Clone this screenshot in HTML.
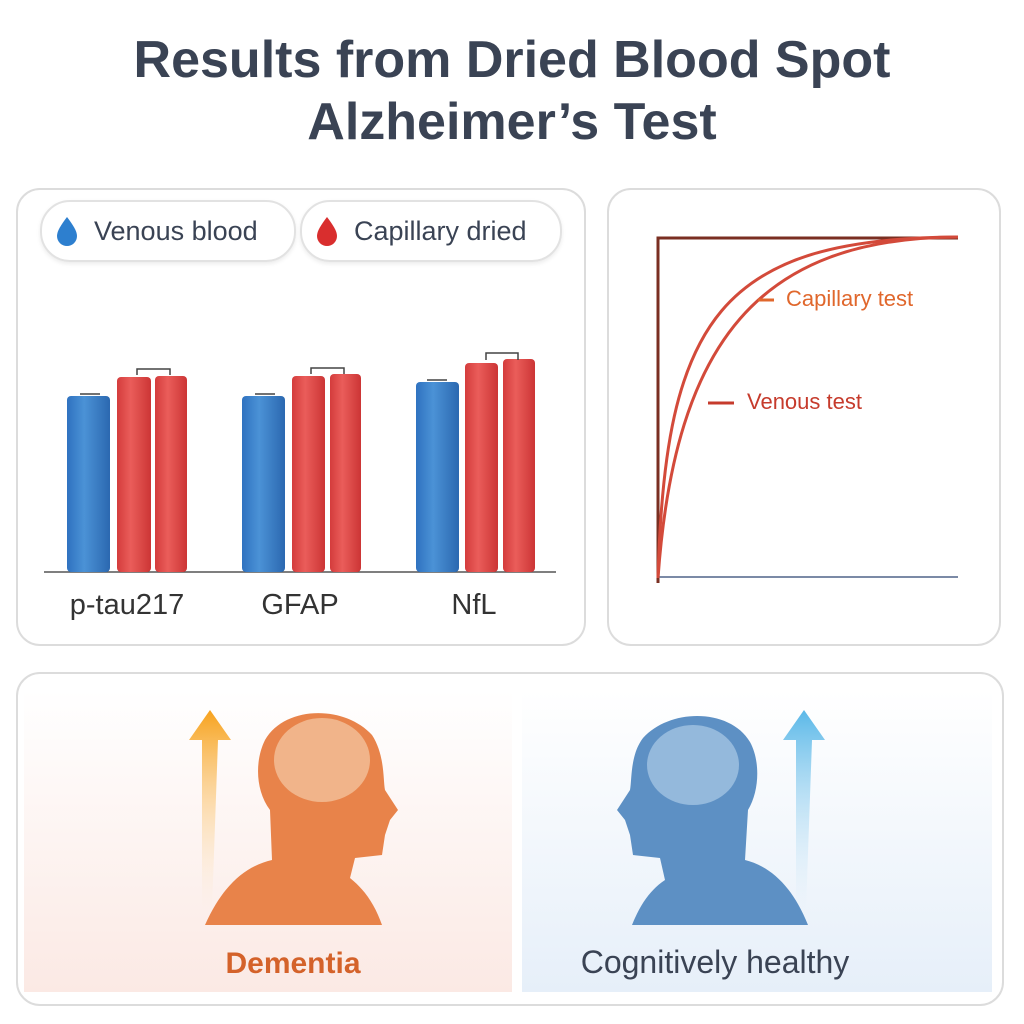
<!DOCTYPE html><html><head><meta charset="utf-8"><style>
body{margin:0;width:1024px;height:1024px;background:#fff;font-family:"Liberation Sans",sans-serif;position:relative;overflow:hidden}
.t{position:absolute;left:0;width:1024px;text-align:center;font-weight:bold;font-size:52px;color:#3a4354}
.card{position:absolute;border:2px solid #dcdcdc;border-radius:24px;background:#fff}
.pill{position:absolute;height:58px;border:2px solid #e2e2e2;border-radius:30px;font-size:27px;color:#3a4354;line-height:58px;box-shadow:0 2px 4px rgba(0,0,0,.08)}
</style></head><body>
<div class="t" style="top:30px">Results from Dried Blood Spot</div>
<div class="t" style="top:92px">Alzheimer’s Test</div>
<div class="card" style="left:16px;top:188px;width:566px;height:454px"></div>
<div class="card" style="left:607px;top:188px;width:390px;height:454px"></div>
<div class="card" style="left:16px;top:672px;width:984px;height:330px"></div>
<div class="pill" style="left:40px;top:200px;width:252px"><span style="position:absolute;left:52px">Venous blood</span></div>
<div class="pill" style="left:300px;top:200px;width:258px"><span style="position:absolute;left:52px">Capillary dried</span></div>
<svg width="1024" height="1024" style="position:absolute;left:0;top:0">
<defs>
<linearGradient id="bl" x1="0" x2="1"><stop offset="0" stop-color="#2f72c0"/><stop offset=".4" stop-color="#4b92d6"/><stop offset="1" stop-color="#2b68b0"/></linearGradient>
<linearGradient id="rd" x1="0" x2="1"><stop offset="0" stop-color="#d43c3c"/><stop offset=".4" stop-color="#ea5d5a"/><stop offset="1" stop-color="#cc3535"/></linearGradient>
<linearGradient id="ob" x1="0" y1="1" x2="0" y2="0"><stop offset="0" stop-color="#fde8c8" stop-opacity="0"/><stop offset="1" stop-color="#f7a21d"/></linearGradient>
<linearGradient id="lb" x1="0" y1="1" x2="0" y2="0"><stop offset="0" stop-color="#cfe8f8" stop-opacity="0"/><stop offset="1" stop-color="#5ab8e8"/></linearGradient>
<linearGradient id="bgo" x1="0" y1="0" x2="0" y2="1"><stop offset="0" stop-color="#fff"/><stop offset="1" stop-color="#fbe9e4"/></linearGradient>
<linearGradient id="bgb" x1="0" y1="0" x2="0" y2="1"><stop offset="0" stop-color="#fff"/><stop offset="1" stop-color="#e6eff9"/></linearGradient>
</defs>
<path d="M67 217c-6 8-10 14-10 19a10 10 0 0 0 20 0c0-5-4-11-10-19z" fill="#2d7fcf"/>
<path d="M327 217c-6 8-10 14-10 19a10 10 0 0 0 20 0c0-5-4-11-10-19z" fill="#d92e2e"/>
<line x1="44" y1="572" x2="556" y2="572" stroke="#555" stroke-width="1.5"/>
<g>
<rect x="67" y="396" width="43" height="176" rx="4" fill="url(#bl)"/><rect x="117" y="377" width="34" height="195" rx="4" fill="url(#rd)"/><rect x="155" y="376" width="32" height="196" rx="4" fill="url(#rd)"/>
<rect x="242" y="396" width="43" height="176" rx="4" fill="url(#bl)"/><rect x="292" y="376" width="33" height="196" rx="4" fill="url(#rd)"/><rect x="330" y="374" width="31" height="198" rx="4" fill="url(#rd)"/>
<rect x="416" y="382" width="43" height="190" rx="4" fill="url(#bl)"/><rect x="465" y="363" width="33" height="209" rx="4" fill="url(#rd)"/><rect x="503" y="359" width="32" height="213" rx="4" fill="url(#rd)"/>
<path d="M80 394h20M137 375v-6h33v6M255 394h20M311 374v-6h33v6M427 380h20M486 360v-7h32v7" stroke="#444" stroke-width="1.5" fill="none"/>
</g>
<text x="127" y="614" font-size="29" fill="#333" text-anchor="middle">p-tau217</text>
<text x="300" y="614" font-size="29" fill="#333" text-anchor="middle">GFAP</text>
<text x="474" y="614" font-size="29" fill="#333" text-anchor="middle">NfL</text>
<line x1="658" y1="577" x2="958" y2="577" stroke="#7b8aa6" stroke-width="2"/>
<path d="M658 583V238h300" stroke="#7a2f22" stroke-width="3" fill="none"/>
<path d="M658 578C675 340 760 238 958 237" stroke="#d34a3a" stroke-width="3" fill="none"/>
<path d="M658 578C665 320 720 238 958 237" stroke="#d34a3a" stroke-width="3" fill="none"/>
<line x1="758" y1="300" x2="774" y2="300" stroke="#e0672c" stroke-width="3"/>
<text x="786" y="306" font-size="22" fill="#e0672c">Capillary test</text>
<line x1="708" y1="403" x2="734" y2="403" stroke="#c63b2c" stroke-width="3"/>
<text x="747" y="409" font-size="22" fill="#c63b2c">Venous test</text>
<rect x="24" y="690" width="488" height="302" fill="url(#bgo)"/>
<rect x="522" y="690" width="470" height="302" fill="url(#bgb)"/>
<path d="M202 910V740h-13l21-30 21 30h-13l-6 170z" fill="url(#ob)"/>
<path d="M796 910V740h-13l21-30 21 30h-13l-6 170z" fill="url(#lb)"/>
<path d="M205 925C225 880 250 865 272 860L270 810C255 790 255 760 265 740C285 705 345 705 372 735C385 755 383 780 385 790L398 810L390 820L385 835L382 855L355 858L350 878C365 890 375 905 382 925Z" fill="#e8834a"/>
<ellipse cx="322" cy="760" rx="48" ry="42" fill="#f3c09a" opacity=".8"/>
<path d="M808 925C790 880 765 865 745 860L748 810C760 790 760 760 750 742C730 708 670 708 643 738C630 755 632 780 630 790L617 810L625 820L630 835L633 855L660 858L665 880C650 890 640 905 632 925Z" fill="#5d90c4"/>
<ellipse cx="693" cy="765" rx="46" ry="40" fill="#a3c3e2" opacity=".8"/>
<text x="293" y="973" font-size="30" font-weight="bold" fill="#d4622a" text-anchor="middle">Dementia</text>
<text x="715" y="973" font-size="32" fill="#3a4354" text-anchor="middle">Cognitively healthy</text>
</svg>
</body></html>
